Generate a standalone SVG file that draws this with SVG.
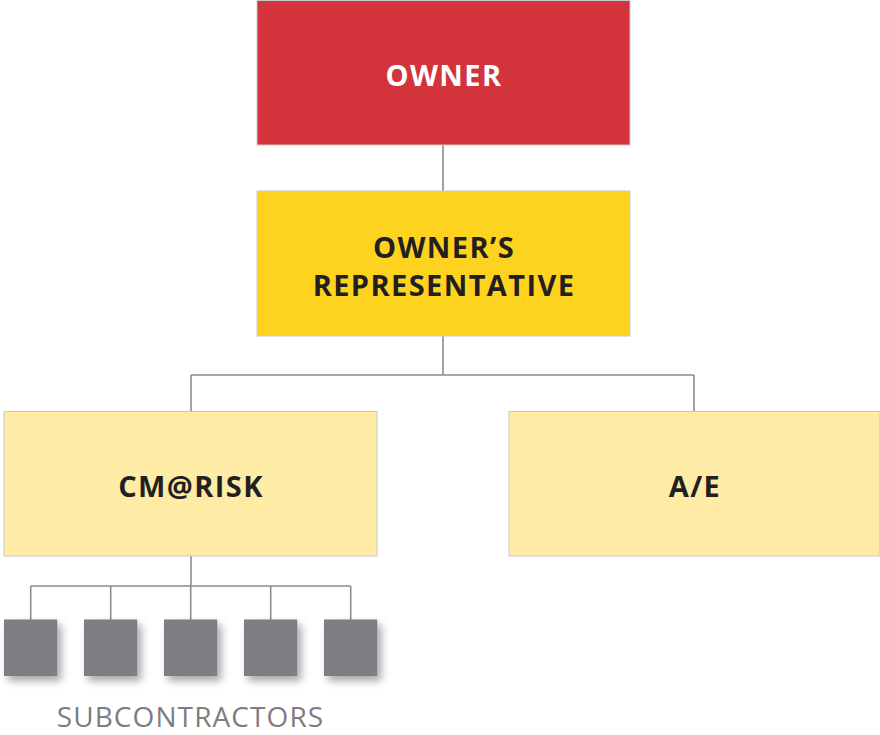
<svg xmlns="http://www.w3.org/2000/svg" width="880" height="735" viewBox="0 0 880 735">
  <style>
    .box { stroke: #c9c9c9; stroke-width: 1; }
    .lbl { font-family: "Open Sans", "Liberation Sans", sans-serif; font-weight: 700; font-size: 29px; letter-spacing: 1.4px; text-anchor: middle; fill: #231f20; }
    .conn { stroke: #8c8c8c; stroke-width: 1.6; fill: none; }
    .sub { fill: #7e7d82; filter: url(#sh); }
  </style>
  <defs>
    <filter id="sh" x="-30%" y="-30%" width="170%" height="170%">
      <feGaussianBlur in="SourceAlpha" stdDeviation="4"/>
      <feOffset dx="4" dy="5" result="b"/>
      <feComponentTransfer><feFuncA type="linear" slope="0.35"/></feComponentTransfer>
      <feMerge><feMergeNode/><feMergeNode in="SourceGraphic"/></feMerge>
    </filter>
  </defs>
  <rect width="880" height="735" fill="#ffffff"/>
  <g id="connectors">
    <path class="conn" d="M443 145 V191"/>
    <path class="conn" d="M443 336 V375 M191 375 H694 M191 375 V412 M694 375 V412"/>
    <path class="conn" d="M191 556 V586 M30.7 586 H350.7 M30.7 586 V620 M110.7 586 V620 M190.7 586 V620 M270.7 586 V620 M350.7 586 V620"/>
  </g>
  <g id="owner">
    <rect class="box" x="257" y="0.5" width="373" height="144.5" fill="#d3333b"/>
    <text class="lbl" x="444" y="86" style="fill:#ffffff">OWNER</text>
  </g>
  <g id="owners-rep">
    <rect class="box" x="257" y="191" width="373" height="145" fill="#fdd320"/>
    <text class="lbl" x="444" y="258">OWNER’S</text>
    <text class="lbl" x="444" y="296">REPRESENTATIVE</text>
  </g>
  <g id="cm-at-risk">
    <rect class="box" x="4" y="411.5" width="373" height="144.5" fill="#feeba5"/>
    <text class="lbl" x="191" y="497">CM@RISK</text>
  </g>
  <g id="ae">
    <rect class="box" x="509" y="411.5" width="371" height="144.5" fill="#feeba5"/>
    <text class="lbl" x="695" y="497">A/E</text>
  </g>
  <g id="subcontractors">
    <rect class="sub" x="4" y="619.5" width="53.3" height="56.5"/>
    <rect class="sub" x="84" y="619.5" width="53.3" height="56.5"/>
    <rect class="sub" x="164" y="619.5" width="53.3" height="56.5"/>
    <rect class="sub" x="244" y="619.5" width="53.3" height="56.5"/>
    <rect class="sub" x="324" y="619.5" width="53.3" height="56.5"/>
    <text x="190.5" y="726.5" font-family="'Open Sans', 'Liberation Sans', sans-serif" font-size="28" letter-spacing="1.1" text-anchor="middle" fill="#7d7d80">SUBCONTRACTORS</text>
  </g>
</svg>
